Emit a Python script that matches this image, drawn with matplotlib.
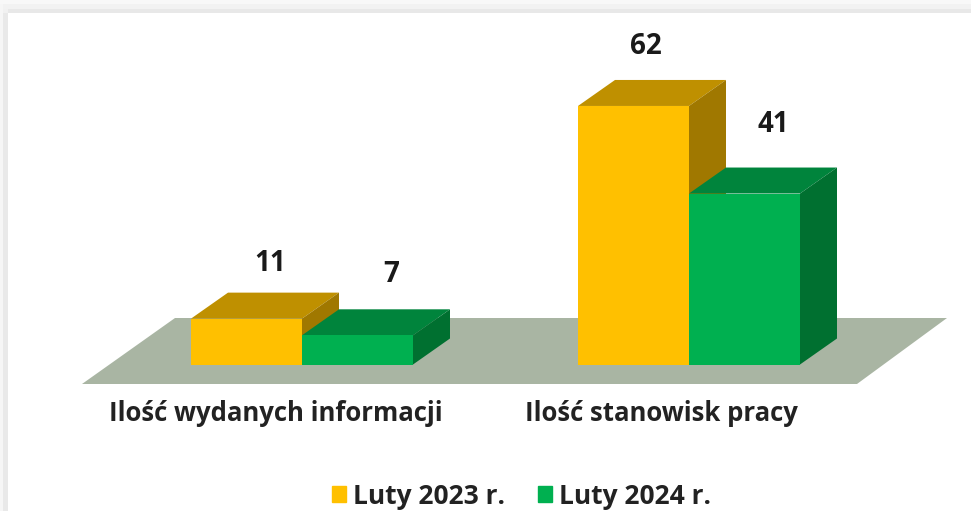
"""Two-category pseudo-3D bar chart, Luty 2023 vs Luty 2024."""
import matplotlib

matplotlib.use("Agg")
import matplotlib.pyplot as plt
from matplotlib.patches import Patch, Polygon, Rectangle

CATEGORIES = ["Ilość wydanych informacji", "Ilość stanowisk pracy"]
SERIES = ["Luty 2023 r.", "Luty 2024 r."]
VALUES_2023 = [11, 62]
VALUES_2024 = [7, 41]

FACE = ["#FFC000", "#00B050"]
TOP = ["#BF9000", "#00843C"]
SIDE = ["#A07800", "#007030"]
FLOOR = "#A9B5A3"
INK = "#1A1A1A"

# scale: pixels per category step / per value unit, and where the origin sits
W, H = 971, 511
PX_X, PX_Y = 387.0, 4.17
X0_PX, Y0_PX = 302.0, 364.5
BAR_W = 111 / PX_X
DEPTH_X, DEPTH_Y = 37 / PX_X, 26 / PX_Y

plt.rcParams["font.family"] = ["Open Sans", "DejaVu Sans"]

fig = plt.figure(figsize=(W / 100, H / 100), dpi=100, facecolor="white")
ax = fig.add_axes([0, 0, 1, 1])
ax.set_xlim(-X0_PX / PX_X, (W - X0_PX) / PX_X)
ax.set_ylim((Y0_PX - H) / PX_Y, Y0_PX / PX_Y)
ax.axis("off")


def px(x, y):
    """Pixel position in the picture to data coordinates."""
    return (x - X0_PX) / PX_X, (Y0_PX - y) / PX_Y


# window frame along the top and left edge, given as picture pixels
for (x0, y0, x1, y1), col in [
    ((0, 0, W, 4), "#F8F8F8"), ((0, 4, W, 9), "#F2F2F2"), ((8, 9, W, 13), "#E8E8E8"),
    ((0, 4, 3, H), "#F6F6F6"), ((3, 13, 8, H), "#E9E9E9"), ((3, 9, 8, 13), "#F1F1F1"),
]:
    ax.add_patch(Polygon([px(x0, y0), px(x1, y0), px(x1, y1), px(x0, y1)],
                         color=col, lw=0, zorder=0))

ax.add_patch(Polygon([px(82, 384), px(857, 384), px(947, 318), px(175, 318)],
                     color=FLOOR, lw=0, zorder=1))


def bar3d(x, val, i, z):
    ax.add_patch(Polygon([(x, val), (x + BAR_W, val), (x + BAR_W + DEPTH_X, val + DEPTH_Y),
                          (x + DEPTH_X, val + DEPTH_Y)], color=TOP[i], lw=0, zorder=z))
    ax.add_patch(Polygon([(x + BAR_W, 0), (x + BAR_W + DEPTH_X, DEPTH_Y),
                          (x + BAR_W + DEPTH_X, val + DEPTH_Y), (x + BAR_W, val)],
                         color=SIDE[i], lw=0, zorder=z))
    ax.add_patch(Rectangle((x, 0), BAR_W, val, color=FACE[i], lw=0, zorder=z))


for c, vals in enumerate(zip(VALUES_2023, VALUES_2024)):
    for i, v in enumerate(vals):
        bar3d(c + (i - 1) * BAR_W, v, i, 2 + i)

# value labels sit off-centre in the source, offsets in points from the bar centre top
OFFSETS = [[(17, 40), (24, 44)], [(9, 43), (21, 50)]]
for c, vals in enumerate(zip(VALUES_2023, VALUES_2024)):
    for i, v in enumerate(vals):
        ax.annotate(str(v), (c + (i - 0.5) * BAR_W, v), xytext=OFFSETS[c][i],
                    textcoords="offset points", ha="center", va="center",
                    fontsize=20, fontweight="bold", color=INK, zorder=5)

for c, label in enumerate(CATEGORIES):
    x, y = px([276, 661.5][c], 413)
    ax.text(x, y, label, ha="center", va="center", fontsize=18.5,
            fontweight="bold", color="#222222", zorder=5)

handles = [Patch(color=FACE[i], label=SERIES[i]) for i in range(2)]
ax.legend(handles=handles, ncol=2, frameon=False, loc="center",
          bbox_to_anchor=(521.5 / W, 1 - 496 / H),
          prop={"weight": "bold", "size": 19}, handlelength=0.53, handleheight=0.53,
          handletextpad=0.27, columnspacing=1.25, labelcolor="#222222")

fig.savefig("out.png", dpi=100)
